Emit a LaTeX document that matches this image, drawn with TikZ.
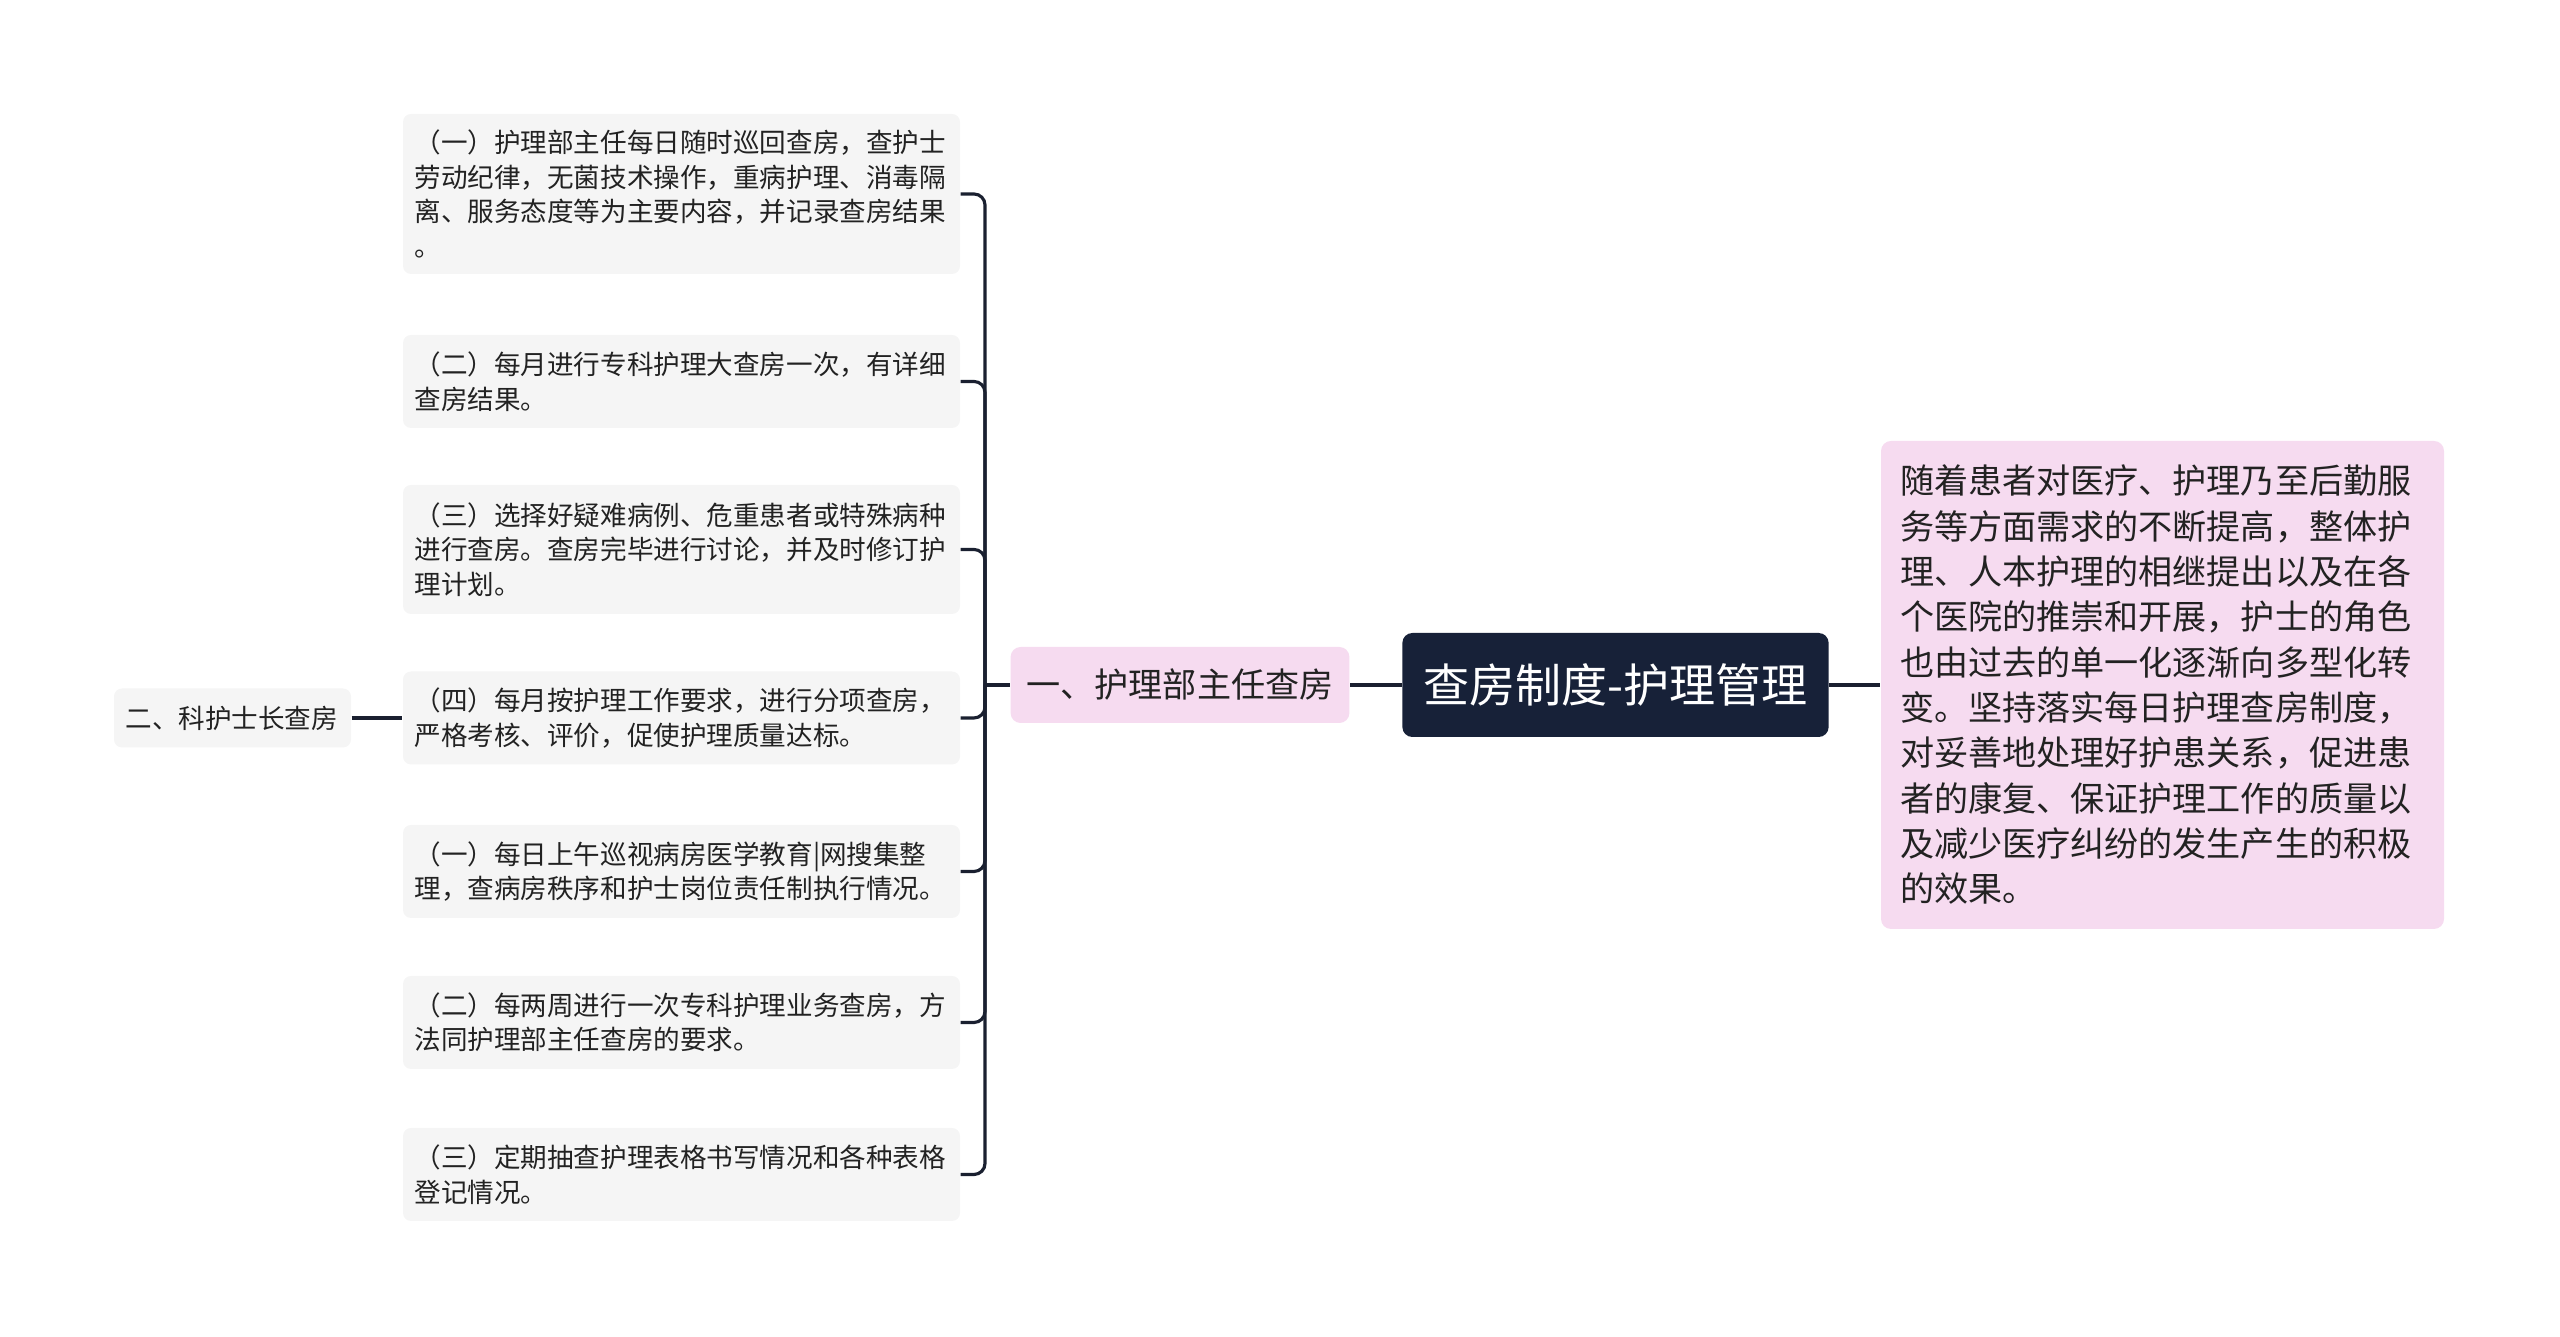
\documentclass[tikz,border=0pt]{standalone}
\usepackage{fontspec}
\setmainfont{Noto Sans CJK SC}
\definecolor{inkline}{RGB}{26,32,48}
\definecolor{rootfill}{RGB}{23,33,56}
\definecolor{pinkfill}{RGB}{246,219,240}
\definecolor{grayfill}{RGB}{245,245,245}
\definecolor{inktext}{RGB}{34,34,34}
\tikzset{
  itembox/.style={fill=grayfill, rounded corners=0.08cm, text=inktext, text width=5.34cm, align=left,
    inner xsep=0.115cm, inner ysep=0pt, font=\fontsize{7.56pt}{9.8pt}\selectfont},
  topicbox/.style={fill=pinkfill, rounded corners=0.1cm, text=inktext, inner xsep=0.16cm,
    minimum height=0.76cm, font=\fontsize{9.7pt}{12pt}\selectfont},
  rootbox/.style={fill=rootfill, rounded corners=0.1cm, text=white, inner xsep=0.21cm,
    minimum height=1.04cm, font=\fontsize{13.1pt}{15pt}\selectfont},
  notebox/.style={fill=pinkfill, rounded corners=0.1cm, text=inktext, text width=5.25cm, align=left,
    inner xsep=0.19cm, minimum height=4.88cm, font=\fontsize{9.7pt}{12.9pt}\selectfont},
  link/.style={draw=inkline, line width=0.9pt, rounded corners=0.11cm}
}
\begin{document}
\begin{tikzpicture}
\useasboundingbox (0,0) rectangle (25.6,13.37);

\node[rootbox] (root) at (16.155,6.52) {查房制度-护理管理};
\node[topicbox] (k1) at (11.80,6.52) {一、护理部主任查房};
\node[itembox, minimum height=0.59cm, text width=2.14cm] (k2) at (2.325,6.19) {二、科护士长查房};
\node[notebox] (note) at (21.625,6.52) {随着患者对医疗、护理乃至后勤服\\务等方面需求的不断提高，整体护\\理、人本护理的相继提出以及在各\\个医院的推崇和开展，护士的角色\\也由过去的单一化逐渐向多型化转\\变。坚持落实每日护理查房制度，\\对妥善地处理好护患关系，促进患\\者的康复、保证护理工作的质量以\\及减少医疗纠纷的发生产生的积极\\的效果。};

\node[itembox, minimum height=1.60cm] (p1) at (6.815,11.43) {（一）护理部主任每日随时巡回查房，查护士\\劳动纪律，无菌技术操作，重病护理、消毒隔\\离、服务态度等为主要内容，并记录查房结果\\。};
\node[itembox, minimum height=0.93cm] (p2) at (6.815,9.555) {（二）每月进行专科护理大查房一次，有详细\\查房结果。};
\node[itembox, minimum height=1.29cm] (p3) at (6.815,7.875) {（三）选择好疑难病例、危重患者或特殊病种\\进行查房。查房完毕进行讨论，并及时修订护\\理计划。};
\node[itembox, minimum height=0.93cm] (p4) at (6.815,6.19) {（四）每月按护理工作要求，进行分项查房，\\严格考核、评价，促使护理质量达标。};
\node[itembox, minimum height=0.93cm] (p5) at (6.815,4.655) {（一）每日上午巡视病房医学教育|网搜集整\\理，查病房秩序和护士岗位责任制执行情况。};
\node[itembox, minimum height=0.93cm] (p6) at (6.815,3.145) {（二）每两周进行一次专科护理业务查房，方\\法同护理部主任查房的要求。};
\node[itembox, minimum height=0.93cm] (p7) at (6.815,1.625) {（三）定期抽查护理表格书写情况和各种表格\\登记情况。};

\coordinate (hub) at (9.85,6.52);

\path[link] (root.west) -- (k1.east);
\path[link] (root.east) -- (note.west);
\path[link] (k1.west) -- (hub);
\foreach \p in {p1,p2,p3,p4,p5,p6,p7}
  \path[link] (hub) |- (\p.east);
\path[link] (k2.east) -- (p4.west);
\end{tikzpicture}
\end{document}
